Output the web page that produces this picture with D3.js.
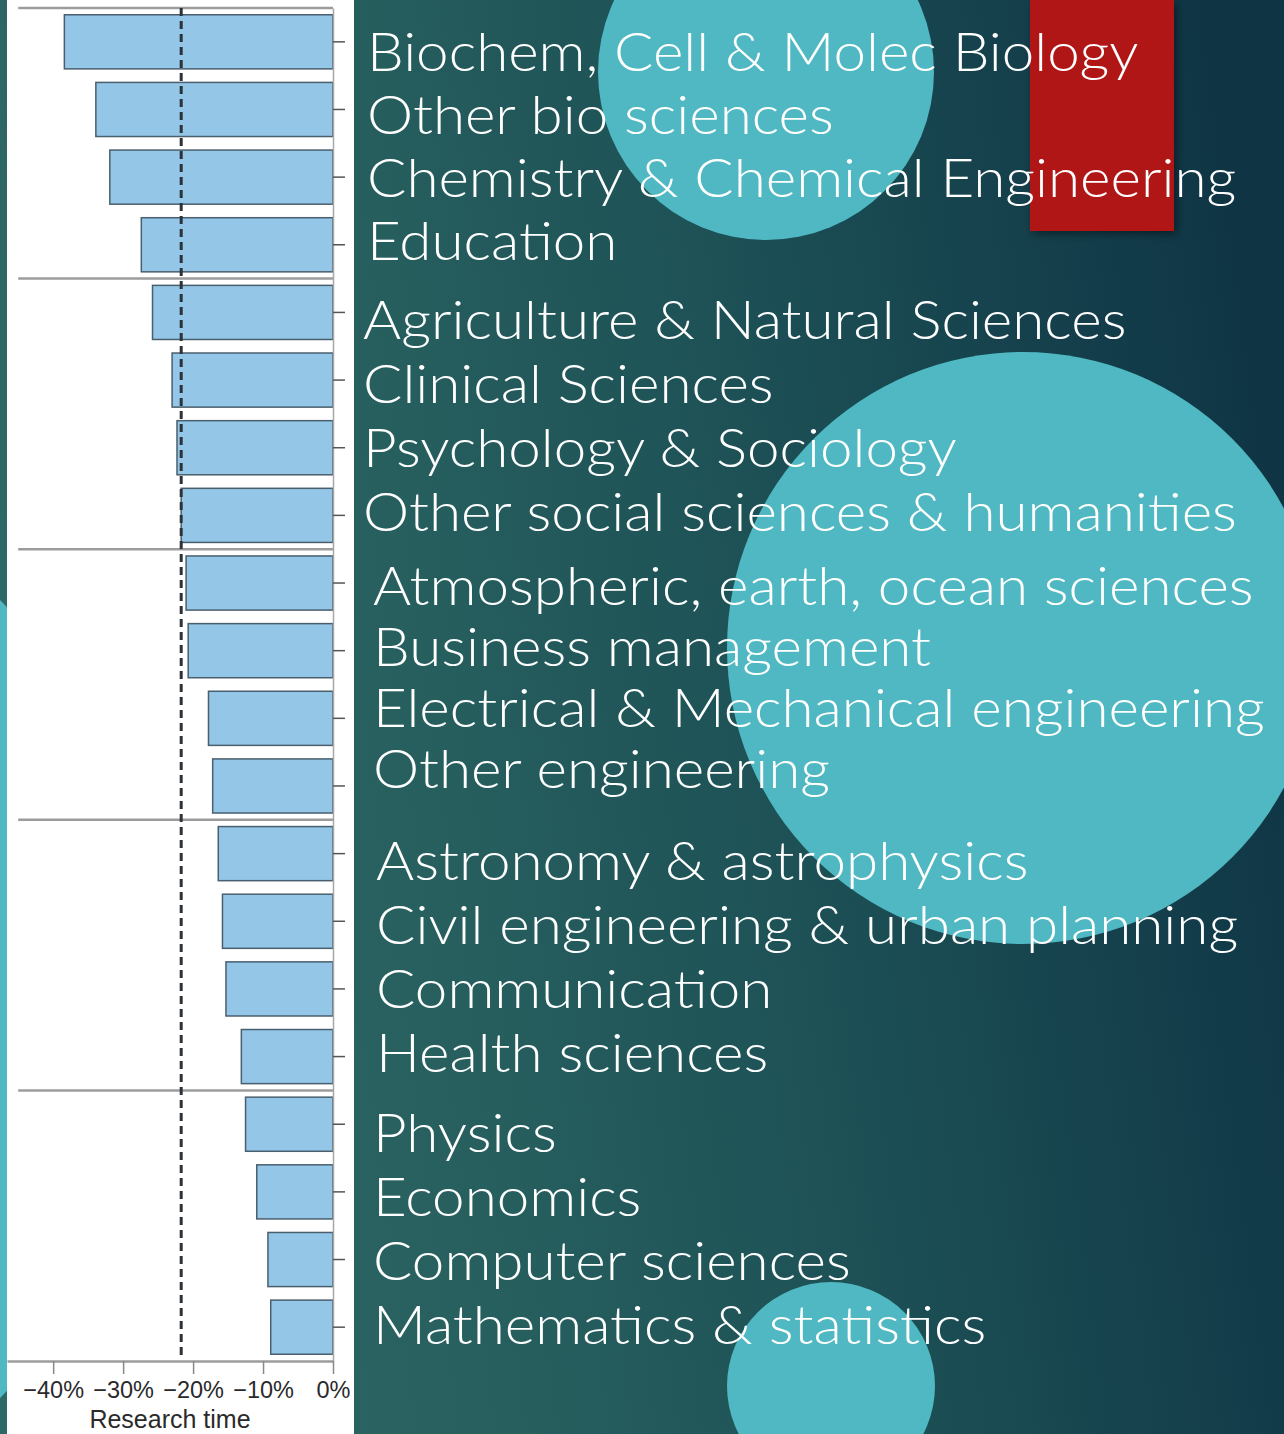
<!DOCTYPE html>
<html>
<head>
<meta charset="utf-8">
<script src="https://cdn.jsdelivr.net/npm/d3@7"></script>
<style>
  html, body { margin: 0; padding: 0; background: #1d5254; }
  svg { display: block; }
</style>
</head>
<body>
<div id="chart"></div>
<script>
// categories, top to bottom, in groups of four
var categories = [
  "Biochem, Cell & Molec Biology", "Other bio sciences", "Chemistry & Chemical Engineering", "Education",
  "Agriculture & Natural Sciences", "Clinical Sciences", "Psychology & Sociology", "Other social sciences & humanities",
  "Atmospheric, earth, ocean sciences", "Business management", "Electrical & Mechanical engineering", "Other engineering",
  "Astronomy & astrophysics", "Civil engineering & urban planning", "Communication", "Health sciences",
  "Physics", "Economics", "Computer sciences", "Mathematics & statistics"
];
// change in research time, percent
var researchTime = [
  -38.4, -33.9, -31.9, -27.4,
  -25.8, -23.0, -22.3, -21.7,
  -21.0, -20.7, -17.8, -17.2,
  -16.4, -15.8, -15.3, -13.1,
  -12.5, -10.9, -9.3, -8.9
];
var averageChange = -21.7;
var xTicks = [-40, -30, -20, -10, 0];
var groupSize = 4;

var W = 1284, H = 1434;
var svg = d3.select("#chart").append("svg")
    .attr("width", W)
    .attr("height", H);

// slide background
var defs = svg.append("defs");
var grad = defs.append("linearGradient")
    .attr("id", "bg")
    .attr("x1", 0).attr("y1", 0.55)
    .attr("x2", 1).attr("y2", 0.4);
grad.append("stop").attr("offset", 0).attr("stop-color", "#2e6866");
grad.append("stop").attr("offset", 0.3).attr("stop-color", "#28605f");
grad.append("stop").attr("offset", 0.6).attr("stop-color", "#1d5156");
grad.append("stop").attr("offset", 1).attr("stop-color", "#0f3545");
var shadow = defs.append("filter").attr("id", "shadow")
    .attr("x", -0.2).attr("y", -0.2).attr("width", 1.4).attr("height", 1.4);
shadow.append("feDropShadow")
    .attr("dx", 3).attr("dy", 3).attr("stdDeviation", 4)
    .attr("flood-color", "#000").attr("flood-opacity", 0.45);

svg.append("rect").attr("width", W).attr("height", H).attr("fill", "url(#bg)");

var circleFill = "#4fb8c2";
svg.append("circle").attr("cx", -393).attr("cy", 999).attr("r", 560).attr("fill", circleFill);
svg.append("circle").attr("cx", 766).attr("cy", 72).attr("r", 168).attr("fill", circleFill);
svg.append("circle").attr("cx", 1023).attr("cy", 648).attr("r", 296).attr("fill", circleFill);
svg.append("circle").attr("cx", 831).attr("cy", 1386).attr("r", 104).attr("fill", circleFill);
svg.append("rect")
    .attr("x", 1030).attr("y", 0).attr("width", 144).attr("height", 231)
    .attr("fill", "#b01615")
    .attr("filter", "url(#shadow)");

// chart panel
var panel = { left: 7, right: 354 };
svg.append("rect")
    .attr("x", panel.left).attr("y", 0)
    .attr("width", panel.right - panel.left).attr("height", H)
    .attr("fill", "#ffffff");

var x = d3.scaleLinear().domain([-46.6, 0]).range([panel.left, 333]);
var y = d3.scaleBand().domain(categories).range([8, 1361])
    .paddingInner(0.2).paddingOuter(0.1);

var chart = svg.append("g");

// group separators
var sepIdx = d3.range(0, categories.length, groupSize);
chart.selectAll(".sep").data(sepIdx).enter().append("line")
    .attr("class", "sep")
    .attr("x1", x(-45)).attr("x2", x(0))
    .attr("y1", function (d) { return y.range()[0] + d * y.step(); })
    .attr("y2", function (d) { return y.range()[0] + d * y.step(); })
    .attr("stroke", "#9c9c9c").attr("stroke-width", 2.5);

chart.selectAll(".bar").data(researchTime).enter().append("rect")
    .attr("class", "bar")
    .attr("x", function (d) { return x(d); })
    .attr("y", function (d, i) { return y(categories[i]); })
    .attr("width", function (d) { return x(0) - x(d); })
    .attr("height", y.bandwidth())
    .attr("fill", "#94c6e7")
    .attr("stroke", "#4a5f6e")
    .attr("stroke-width", 1.5);

// average line
chart.append("line")
    .attr("x1", x(averageChange)).attr("x2", x(averageChange))
    .attr("y1", y.range()[0]).attr("y2", y.range()[1] - 2)
    .attr("stroke", "#2b3238").attr("stroke-width", 3)
    .attr("stroke-dasharray", "8,5");

// right axis (ticks only)
var yAxis = d3.axisRight(y).tickFormat("").tickSize(12).tickSizeOuter(0);
var yg = chart.append("g")
    .attr("transform", "translate(" + x(0) + ",0)")
    .call(yAxis);
yg.select(".domain").attr("stroke", "#a8a8a8").attr("stroke-width", 1.5);
yg.selectAll(".tick line").attr("stroke", "#555").attr("stroke-width", 1.5);

// bottom axis
var fmt = d3.format("d");
var xAxis = d3.axisBottom(x).tickValues(xTicks)
    .tickFormat(function (d) { return fmt(d) + "%"; })
    .tickSize(13).tickSizeOuter(0).tickPadding(7);
var xg = chart.append("g")
    .attr("transform", "translate(0," + y.range()[1] + ")")
    .call(xAxis);
xg.select(".domain").attr("stroke", "#9c9c9c").attr("stroke-width", 2.5);
xg.selectAll(".tick line").attr("stroke", "#888").attr("stroke-width", 1.5);
xg.selectAll(".tick text")
    .attr("fill", "#2a2a2a")
    .style("font-family", "'Liberation Sans', Arial, sans-serif")
    .style("font-size", "23.5px");

chart.append("text")
    .attr("x", (panel.left + x(0)) / 2)
    .attr("y", 1428)
    .attr("text-anchor", "middle")
    .attr("fill", "#2a2a2a")
    .style("font-family", "'Liberation Sans', Arial, sans-serif")
    .style("font-size", "25px")
    .text("Research time");

// slide labels, one text box per group
var boxes = [
  { x: 367, y: 71, lh: 63 },
  { x: 363, y: 339, lh: 64 },
  { x: 373, y: 605, lh: 61 },
  { x: 376, y: 880, lh: 64 },
  { x: 373, y: 1152, lh: 64 }
];
var labels = svg.append("g")
    .style("font-family", "Lato, 'Open Sans', sans-serif")
    .style("font-weight", 300)
    .style("font-size", "53px")
    .attr("fill", "#ffffff");
var lab = labels.selectAll("text").data(categories).enter().append("text")
    .attr("x", 0).attr("y", 0)
    .text(function (d) { return d; });
// stretch the face so the widest line spans about the same width as on the slide
var widest = d3.max(lab.nodes(), function (n) { return n.getComputedTextLength(); });
var sx = 892 / widest;
lab.attr("transform", function (d, i) {
  var b = boxes[Math.floor(i / groupSize)];
  return "translate(" + b.x + "," + (b.y + (i % groupSize) * b.lh) + ") scale(" + sx + ",1)";
});
</script>
</body>
</html>
